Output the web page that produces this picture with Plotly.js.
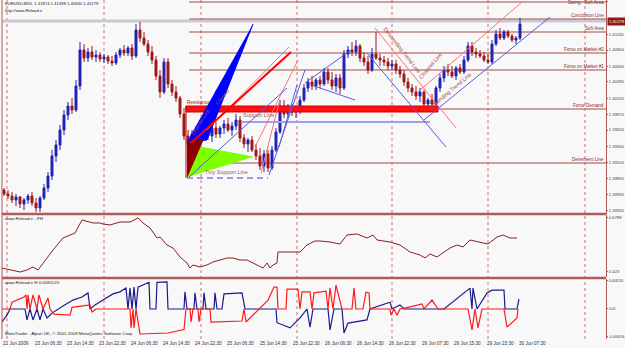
<!DOCTYPE html>
<html><head><meta charset="utf-8">
<script src="https://cdn.plot.ly/plotly-3.0.1.min.js"></script>
<style>html,body{margin:0;padding:0;background:#f8f8f8}#c{width:625px;height:348px}</style>
</head><body><div id="c"></div><script>
// ---------- price candles (EURUSD M30) ----------
const openP = [1.38660,1.38596,1.38564,1.38500,1.38548,1.38436,1.38500,1.38564,1.38452,1.38372,
1.38532,1.38692,1.38884,1.39204,1.39380,1.39620,1.39860,1.40004,1.39940,1.40324,
1.40900,1.40772,1.40868,1.40788,1.40820,1.40756,1.40788,1.40724,1.40692,1.40820,
1.40900,1.40852,1.40932,1.40804,1.41220,1.41092,1.40996,1.40868,1.40740,1.40484,
1.40228,1.40708,1.40356,1.40228,1.40132,1.39876,1.39524,1.39380,1.39556,1.39620,
1.39716,1.39620,1.39524,1.39652,1.39556,1.39652,1.39716,1.39620,1.39684,1.39780,
1.39492,1.39396,1.39460,1.39300,1.39204,1.39044,1.39236,1.39012,1.39300,1.39588,
1.40004,1.39876,1.39972,1.39908,1.39940,1.40100,1.40292,1.40388,1.40324,1.40420,
1.40356,1.40548,1.40420,1.40324,1.40452,1.40292,1.40836,1.40900,1.40868,1.40964,
1.40772,1.40708,1.40580,1.40836,1.40772,1.40740,1.40708,1.40644,1.40676,1.40580,
1.40516,1.40388,1.40292,1.40228,1.40164,1.40228,1.40036,1.40100,1.40036,1.40292,
1.40452,1.40580,1.40548,1.40484,1.40612,1.40548,1.40740,1.40964,1.40868,1.40836,
1.40804,1.40740,1.40708,1.40996,1.41156,1.41092,1.41188,1.41124,1.41060,1.41092];
const highP = [1.38692,1.38660,1.38628,1.38596,1.38564,1.38532,1.38596,1.38628,1.38532,1.38564,
1.38756,1.38948,1.39300,1.39460,1.39700,1.39940,1.40068,1.40132,1.40420,1.41028,
1.40996,1.40932,1.40964,1.40900,1.40868,1.40836,1.40820,1.40804,1.40868,1.40932,
1.40980,1.40964,1.40996,1.41316,1.41348,1.41188,1.41060,1.40964,1.40804,1.40580,
1.40772,1.40772,1.40420,1.40324,1.40164,1.39972,1.39620,1.39620,1.39684,1.39780,
1.39812,1.39716,1.39684,1.39748,1.39684,1.39780,1.39812,1.39748,1.39876,1.39844,
1.39556,1.39492,1.39524,1.39396,1.39332,1.39300,1.39300,1.39364,1.39652,1.40100,
1.40100,1.40036,1.40036,1.40004,1.40164,1.40356,1.40452,1.40484,1.40452,1.40484,
1.40612,1.40612,1.40548,1.40516,1.40516,1.40900,1.40964,1.41028,1.41060,1.40996,
1.40868,1.40804,1.40932,1.41188,1.40836,1.40804,1.40772,1.40740,1.40740,1.40644,
1.40580,1.40452,1.40356,1.40324,1.40292,1.40260,1.40132,1.40196,1.40324,1.40516,
1.40644,1.40676,1.40644,1.40644,1.40676,1.40804,1.41028,1.41028,1.40932,1.40900,
1.40868,1.40836,1.41060,1.41220,1.41252,1.41220,1.41220,1.41156,1.41124,1.41412];
const lowP = [1.38564,1.38516,1.38452,1.38404,1.38372,1.38340,1.38436,1.38404,1.38308,1.38308,
1.38500,1.38628,1.38820,1.39108,1.39300,1.39540,1.39780,1.39876,1.39908,1.40260,
1.40708,1.40708,1.40740,1.40708,1.40708,1.40692,1.40676,1.40644,1.40660,1.40772,
1.40804,1.40804,1.40740,1.40772,1.41028,1.40964,1.40804,1.40676,1.40420,1.40132,
1.40196,1.40292,1.40164,1.40068,1.39812,1.39460,1.38868,1.39300,1.39460,1.39524,
1.39556,1.39460,1.39428,1.39492,1.39492,1.39556,1.39588,1.39524,1.39620,1.39428,
1.39332,1.39268,1.39268,1.39140,1.38980,1.38948,1.38948,1.38980,1.39268,1.39556,
1.39812,1.39812,1.39844,1.39812,1.39876,1.40068,1.40228,1.40260,1.40260,1.40292,
1.40324,1.40356,1.40260,1.40228,1.40196,1.40260,1.40772,1.40804,1.40804,1.40708,
1.40644,1.40516,1.40548,1.40740,1.40644,1.40644,1.40580,1.40580,1.40516,1.40452,
1.40324,1.40228,1.40164,1.40100,1.40068,1.40004,1.39908,1.39972,1.40004,1.40228,
1.40388,1.40484,1.40452,1.40420,1.40516,1.40516,1.40708,1.40804,1.40772,1.40772,
1.40708,1.40676,1.40676,1.40964,1.41060,1.41060,1.41092,1.41028,1.40996,1.41060];
const closeP = [1.38596,1.38564,1.38500,1.38548,1.38436,1.38500,1.38564,1.38452,1.38372,1.38532,
1.38692,1.38884,1.39204,1.39380,1.39620,1.39860,1.40004,1.39940,1.40324,1.40900,
1.40772,1.40868,1.40788,1.40820,1.40756,1.40788,1.40724,1.40692,1.40820,1.40900,
1.40852,1.40932,1.40804,1.41220,1.41092,1.40996,1.40868,1.40740,1.40484,1.40228,
1.40708,1.40356,1.40228,1.40132,1.39876,1.39524,1.39380,1.39556,1.39620,1.39716,
1.39620,1.39524,1.39652,1.39556,1.39652,1.39716,1.39620,1.39684,1.39780,1.39492,
1.39396,1.39460,1.39300,1.39204,1.39044,1.39236,1.39012,1.39300,1.39588,1.40004,
1.39876,1.39972,1.39908,1.39940,1.40100,1.40292,1.40388,1.40324,1.40420,1.40356,
1.40548,1.40420,1.40324,1.40452,1.40292,1.40836,1.40900,1.40868,1.40964,1.40772,
1.40708,1.40580,1.40836,1.40772,1.40740,1.40708,1.40644,1.40676,1.40580,1.40516,
1.40388,1.40292,1.40228,1.40164,1.40228,1.40036,1.40100,1.40036,1.40292,1.40452,
1.40580,1.40548,1.40484,1.40612,1.40548,1.40740,1.40964,1.40868,1.40836,1.40804,
1.40740,1.40708,1.40996,1.41156,1.41092,1.41188,1.41124,1.41060,1.41092,1.41316];

// price axis labels
const priceTickVals = [1.41675,1.41150,1.40900,1.40640,1.40390,1.40130,1.39870,1.39620,1.39360,1.39100,1.38850,1.38590,1.38330];
const priceTickText = ["1.41675","1.41150","1.40900","1.40640","1.40390","1.40130","1.39870","1.39620","1.39360","1.39100","1.38850","1.38590","1.38330"];
const bidLevel = 1.41364, bidText = "1.41279";

// time axis labels (bar positions) and day separators
const timeLabelPos = [-0.5,7.5,15.5,23.5,31.5,39.5,47.5,55.5,63.75,72,80,88,96,104.25,112.25,120.5,128.5];
const timeLabels = ["22 Jun 2009","23 Jun 06:30","23 Jun 14:30","23 Jun 22:30","24 Jun 06:30","24 Jun 14:30","24 Jun 22:30","25 Jun 06:30","25 Jun 14:30","25 Jun 22:30","26 Jun 06:30","26 Jun 14:30","26 Jun 22:30","29 Jun 07:30","29 Jun 15:30","29 Jun 23:30","30 Jun 07:30"];
const daySeparators = [0.75,25,49.25,73.25,97,121,145.25];

// horizontal analysis levels
const levelNames = ["Swing - Soft Area","Conclusion Line","Soft Area","Force on Market #2","Force on Market #1","Force Demand","Determent Line"];
const levelPrices = [1.41668,1.41396,1.41188,1.40852,1.40580,1.39956,1.39092];
const levelStart = 46.25;

// trend / channel lines [x0,y0,x1,y1]
const redLinesX0 = [50.75,62.75,92.75,103.5,64.25];
const redLinesY0 = [1.39620,1.39348,1.41252,1.40228,1.38932];
const redLinesX1 = [71.25,73.5,113,129.5,68.75];
const redLinesY1 = [1.40948,1.40740,1.39652,1.41668,1.40052];
const thickRedX = [46.75,71.75], thickRedY = [1.39412,1.40868];
const blueLinesX0 = [46.25,66.25,75.25,76.75,90.75,105,68.75];
const blueLinesY0 = [1.38868,1.38900,1.40372,1.40340,1.40852,1.39780,1.39348];
const blueLinesX1 = [70.75,75.25,86.75,87.75,110.5,136.5,73.25];
const blueLinesY1 = [1.40292,1.40580,1.40900,1.40100,1.39348,1.41428,1.40340];
const supportX = [59.5,106.5], supportY = [1.39748,1.39748];
const tinySupportX = [45.75,66], tinySupportY = [1.38852,1.38852];
const resistVertX = [45.5,45.5], resistVertY = [1.40004,1.38852];
const resistBoxX = [45.5,108.5], resistBoxY = [1.39908,1.40004];
const greenBoxX = [50.75,53.75], greenBoxY = [1.39956,1.40020];
const blueTriX = [45.75,50.75,62.25], blueTriY = [1.39428,1.39460,1.41316];
const greenTriX = [46,49,62.25], greenTriY = [1.38868,1.39348,1.39188];
const maroonTriX = [45.75,49.75,45.75], maroonTriY = [1.39428,1.39460,1.38868];

// FH indicator
const fhIdx = [-0.5,1.5,4,5.75,7.25,8.5,9.75,12.25,14.75,16.5,17.75,19.5,22.25,24,24.75,26.5,29,31.5,33.5,34.75,36.5,38.25,39,40.75,42.25,44,45.75,46.5,47.25,49,50.75,52.25,54,55.75,57.25,59,60.75,62.25,64,64.75,65.75,66.5,67.25,68.25,68.5,70.75,74,75.75,77.75,79,81.5,84,85.75,88.25,90.75,92.25,93.25,96.5,99,101.5,104,105.25,106.5,108.25,109.75,111.5,113.25,114.75,116.5,119,121,123.25,124.75,126.5,128.25];
const fhVal = [0.4419,0.4325,0.4230,0.4325,0.4467,0.4325,0.4656,0.5272,0.5841,0.5983,0.6078,0.6694,0.6552,0.6552,0.6504,0.6457,0.6599,0.6599,0.6789,0.6552,0.6315,0.5841,0.5888,0.5509,0.5367,0.4941,0.4656,0.4419,0.4561,0.4467,0.4561,0.4704,0.4798,0.4893,0.4893,0.4798,0.4798,0.4656,0.4467,0.4419,0.4656,0.4419,0.4561,0.4656,0.5178,0.5178,0.5178,0.5509,0.5699,0.5699,0.5651,0.5557,0.5983,0.6031,0.5841,0.5983,0.5746,0.5651,0.5509,0.5178,0.5035,0.4893,0.5083,0.4941,0.5130,0.5367,0.5509,0.5415,0.5746,0.5651,0.5557,0.5888,0.5983,0.5841,0.5841];
const fhTicks = [0.6789,0.423], fhTickText = ["0.6789","0.423"];

// H indicator (blue and red)
const hBlueX = [-0.5,0.75,1.5,5.25,5.75,6.5,7.25,8.25,9,9.75,10.75,12,14.75,17.25,19.5,21,21.5,22.75,24.75,27.25,29,30.5,31,31.5,32,32.5,33,33.5,36.25,36.5,38,38.25,40.75,41,45,45.25,45.75,47.5,47.75,48.25,49.75,50,50.5,52.5,52.75,53.25,54.5,55,59.5,60.25,68,68.25,71.5,74,75.75,76.5,77.25,81,81.5,82.5,84.5,85,86,90.75,91.5,96.5,97,99,100,110,116.5,117,117.25,118.25,120.75,122,125,125.25,128.25,128.75];
const hBlueV = [-0.0038,-0.0018,0,0,-0.0032,0,-0.0032,0,-0.0032,0,-0.0026,-0.0012,0.0009,0.0026,0.0035,0.0047,0,0.0012,0.0026,0.0044,0.0050,0.0061,0,0.0061,0,0.0064,0,0.0064,0.0078,0,0,0.0078,0.0079,0,0,0.0050,0,0,0.0047,0,0,0.0047,0,0,0.0047,0,0,0.0044,0.0047,0,0,-0.0040,-0.0055,-0.0026,0,-0.0053,0,0,-0.0061,0,0,-0.0070,-0.0041,-0.0032,0,0.0020,0,0.0012,0,0,0.0061,0,0.0061,0,0.0047,0.0055,0.0055,0,0,0.0029];
const hRedX = [-0.5,1.5,2,5,5.5,5.75,6,6.5,7.25,8.25,8.75,9.75,11,11.5,12.5,16.5,17,21.5,22,23,31.5,31.75,32.25,32.5,33,33.5,34,41,45,45.5,46.5,46.75,47.25,48.5,48.75,49.25,51.5,51.75,59.5,60,60.5,66,67.5,68.25,68.5,70.5,70.75,73.5,74,74.5,76.5,77,77.5,80.5,81,81.5,82.25,83,84.5,87,87.5,88,89.75,90.5,91.25,91.5,96.5,96.75,97.5,98.25,99,101.5,104.5,105,107,108.5,116,117,117.75,118.5,119.5,125,125.75,128.25,128.5];
const hRedV = [0,0,0.0020,0.0035,0.0041,0,0.0041,0,0.0041,0,0.0041,0,0.0032,0,-0.0015,-0.0018,0.0005,0.0012,-0.0009,0,0,-0.0055,0,-0.0055,0,-0.0035,-0.0073,-0.0070,-0.0060,0,0,-0.0038,0,0,-0.0038,0,0,-0.0038,-0.0035,0,-0.0038,0.0026,0.0064,0.0064,0,0,0.0058,0.0058,0,0.0050,0.0050,0,0.0047,0.0052,0,0.0061,0,0.0070,0,0,0.0061,0,0,0.0049,0.0047,0,0,-0.0018,0,-0.0018,0,0.0006,0.0015,0,0.0026,0,0,-0.0061,0,-0.0055,0,0,-0.0053,-0.0026,0];
const hTicks = [0.00825,0,-0.00803], hTickText = ["0.008250","0.00","-0.008034"];

// ---------- build ----------
const idx = openP.map((_, i) => i);
const BR = '#b05a5a', TXT = '#333333', F = 'Liberation Sans, Arial, sans-serif';
function segs(x0, y0, x1, y1) {
  const xs = [], ys = [];
  for (let i = 0; i < x0.length; i++) { xs.push(x0[i], x1[i], null); ys.push(y0[i], y1[i], null); }
  return {x: xs, y: ys};
}
const rl = segs(redLinesX0, redLinesY0, redLinesX1, redLinesY1);
const bl = segs(blueLinesX0, blueLinesY0, blueLinesX1, blueLinesY1);
const box = (bx, by) => ({x: [bx[0], bx[1], bx[1], bx[0], bx[0]], y: [by[0], by[0], by[1], by[1], by[0]]});
const rb = box(resistBoxX, resistBoxY), gb = box(greenBoxX, greenBoxY);

const traces = [
  {type: 'scatter', mode: 'lines', x: fhIdx, y: fhVal, yaxis: 'y2', line: {color: '#8b1f1f', width: 1}},
  {type: 'scatter', mode: 'lines', x: hBlueX, y: hBlueV, yaxis: 'y3', line: {color: '#1a1a8c', width: 1.2}},
  {type: 'scatter', mode: 'lines', x: hRedX, y: hRedV, yaxis: 'y3', line: {color: '#ff1a1a', width: 1.2}},
  {type: 'candlestick', x: idx, open: openP, high: highP, low: lowP, close: closeP, whiskerwidth: 0,
   increasing: {line: {color: '#2222b4', width: 1}, fillcolor: '#2222b4'},
   decreasing: {line: {color: '#a01818', width: 1}, fillcolor: '#a01818'}},
  {type: 'scatter', mode: 'lines', x: supportX, y: supportY, line: {color: '#a0a0e8', width: 2}},
  {type: 'scatter', mode: 'lines', x: tinySupportX, y: tinySupportY, line: {color: '#9a9ae6', width: 2, dash: '6px,4px'}},
  {type: 'scatter', mode: 'lines', x: rb.x, y: rb.y, fill: 'toself', fillcolor: '#ff1010', line: {color: '#d00000', width: 1}},
  {type: 'scatter', mode: 'lines', x: gb.x, y: gb.y, fill: 'toself', fillcolor: '#33cc33', line: {width: 0}},
  {type: 'scatter', mode: 'lines', x: resistVertX, y: resistVertY, line: {color: '#cc0000', width: 1}},
  {type: 'scatter', mode: 'lines', x: blueTriX, y: blueTriY, fill: 'toself', fillcolor: '#0000ff', line: {color: '#0000ff', width: 1}},
  {type: 'scatter', mode: 'lines', x: greenTriX, y: greenTriY, fill: 'toself', fillcolor: '#80ff00', line: {color: '#80ff00', width: 1}},
  {type: 'scatter', mode: 'lines', x: maroonTriX, y: maroonTriY, fill: 'toself', fillcolor: '#8b0000', line: {color: '#8b0000', width: 1}},
  {type: 'scatter', mode: 'lines', x: rl.x, y: rl.y, line: {color: '#ff7070', width: 1}},
  {type: 'scatter', mode: 'lines', x: thickRedX, y: thickRedY, line: {color: '#ff0000', width: 2}},
  {type: 'scatter', mode: 'lines', x: bl.x, y: bl.y, line: {color: '#5a5ae0', width: 1}}
];

const shapes = [];
shapes.push({type: 'line', xref: 'x', yref: 'y', x0: -0.5, x1: 150.5, y0: bidLevel, y1: bidLevel, layer: 'below', line: {color: '#c9c9d6', width: 3}});
daySeparators.forEach(d => shapes.push({type: 'line', xref: 'x', yref: 'paper', x0: d, x1: d, y0: 0, y1: 1, layer: 'below', line: {color: '#c87474', width: 1, dash: 'dot'}}));
levelPrices.forEach(p => shapes.push({type: 'line', xref: 'x', yref: 'y', x0: levelStart, x1: 150.5, y0: p, y1: p, layer: 'below', line: {color: '#a64848', width: 1}}));
shapes.push({type: 'line', xref: 'paper', yref: 'paper', x0: 0, x1: 1, y0: 0.3690, y1: 0.3690, line: {color: BR, width: 2.5}});
shapes.push({type: 'line', xref: 'paper', yref: 'paper', x0: 0, x1: 1, y0: 0.1800, y1: 0.1800, line: {color: BR, width: 2.5}});
shapes.push({type: 'line', xref: 'paper', yref: 'paper', x0: 0, x1: 0, y0: 0, y1: 1, line: {color: BR, width: 1}});

const ann = [];
const small = (s, c) => ({family: F, size: s, color: c || TXT});
timeLabels.forEach((t, i) => ann.push({xref: 'x', yref: 'paper', x: timeLabelPos[i], y: 0, yshift: -1, xanchor: 'left', yanchor: 'top', text: t, showarrow: false, font: small(4.6), borderpad: 0}));
levelNames.forEach((t, i) => {
  // the topmost level sits at the very top edge: anchor its label just inside the plot
  const a = {xref: 'x', yref: 'y', x: 150.2, y: levelPrices[i], xanchor: 'right', yanchor: 'bottom', text: t, showarrow: false, font: small(4.6, '#8b2a2a'), borderpad: 0};
  if (i === 0) { a.yref = 'paper'; a.y = 1; a.yanchor = 'top'; a.yshift = 1; }
  ann.push(a);
});
ann.push({xref: 'paper', yref: 'paper', x: 0.003, y: 1, xanchor: 'left', yanchor: 'top', text: 'EURUSD,M30  1.41874 1.41398 1.40940 1.41279', showarrow: false, font: small(4.2, '#222'), borderpad: 0});
ann.push({xref: 'paper', yref: 'paper', x: 0.003, y: 0.98, xanchor: 'left', yanchor: 'top', text: 'http://www.Reload.ir', showarrow: false, font: small(4.2, '#222'), borderpad: 0});
ann.push({xref: 'paper', yref: 'paper', x: 0.003, y: 0.366, xanchor: 'left', yanchor: 'top', text: 'www.Reload.ir - FH', showarrow: false, font: small(4.4, '#222'), borderpad: 0});
ann.push({xref: 'paper', yref: 'paper', x: 0.003, y: 0.176, xanchor: 'left', yanchor: 'top', text: 'www.Reload.ir H 0.0081120', showarrow: false, font: small(4.4, '#222'), borderpad: 0});
ann.push({xref: 'paper', yref: 'paper', x: 0.003, y: 0.005, xanchor: 'left', yanchor: 'bottom', text: 'MetaTrader - Alpari UK, © 2001-2009 MetaQuotes Software Corp.', showarrow: false, font: small(4.4, '#222'), borderpad: 0});
ann.push({xref: 'paper', yref: 'y', x: 1, xshift: 1, y: bidLevel, xanchor: 'left', yanchor: 'middle', text: bidText, showarrow: false, font: small(4.2, '#ffffff'), bgcolor: '#8b1a1a', borderpad: 1});
ann.push({xref: 'x', yref: 'y', x: 45.6, y: 1.40004, xanchor: 'left', yanchor: 'bottom', text: 'Resistance', showarrow: false, font: small(4.6, '#cc0000'), borderpad: 0});
ann.push({xref: 'x', yref: 'y', x: 59.5, y: 1.39790, xanchor: 'left', yanchor: 'bottom', text: 'Support Line', showarrow: false, font: small(5.5, '#a05a5a'), borderpad: 0});
ann.push({xref: 'x', yref: 'y', x: 50, y: 1.38880, xanchor: 'left', yanchor: 'bottom', text: 'Tiny Support Line', showarrow: false, font: small(5.5, '#a05a5a'), borderpad: 0});
ann.push({xref: 'x', yref: 'y', x: 99.5, y: 1.40900, text: 'Descending Trend Line', textangle: 52, showarrow: false, font: small(5.5, '#b04848'), borderpad: 0});
ann.push({xref: 'x', yref: 'y', x: 106.5, y: 1.40650, text: 'Channel Line', textangle: -50, showarrow: false, font: small(5.5, '#b04848'), borderpad: 0});
ann.push({xref: 'x', yref: 'y', x: 111.5, y: 1.40240, text: 'Ascending Trend Line', textangle: -40, showarrow: false, font: small(5.5, '#b04848'), borderpad: 0});
ann.push({xref: 'x', yref: 'y', x: 49, y: 1.39750, text: 'Channel Line', textangle: -58, showarrow: false, font: small(5, '#b04848'), borderpad: 0});
ann.push({xref: 'x', yref: 'y', x: 54.5, y: 1.40150, text: 'Channel', textangle: -50, showarrow: false, font: small(5, '#b04848'), borderpad: 0});

const axisCommon = {side: 'right', showgrid: false, zeroline: false, showline: true, linecolor: BR, ticks: 'outside', ticklen: 1, tickcolor: BR, tickfont: small(4.2, '#444'), fixedrange: true, anchor: 'x'};
const layout = {
  width: 625, height: 348, margin: {l: 2, r: 19, t: 0, b: 9},
  paper_bgcolor: '#f8f8f8', plot_bgcolor: '#f8f8f8', showlegend: false,
  xaxis: {range: [-0.5, 150.5], showgrid: false, zeroline: false, showticklabels: false, showline: true, linecolor: BR, ticks: '', rangeslider: {visible: false}, fixedrange: true},
  yaxis: Object.assign({domain: [0.3717, 1], range: [1.38292, 1.4170], tickvals: priceTickVals, ticktext: priceTickText}, axisCommon),
  yaxis2: Object.assign({domain: [0.1829, 0.3658], range: [0.3993, 0.6931], tickvals: fhTicks, ticktext: fhTickText}, axisCommon),
  yaxis3: Object.assign({domain: [0, 0.177], range: [-0.00876, 0.00876], tickvals: hTicks, ticktext: hTickText}, axisCommon, {tickfont: small(3.5, '#444')}),
  shapes: shapes, annotations: ann
};
Plotly.newPlot('c', traces, layout, {staticPlot: true, displayModeBar: false});
</script></body></html>
